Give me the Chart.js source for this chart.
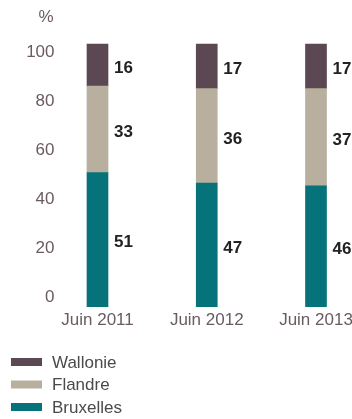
<!DOCTYPE html>
<html>
<head>
<meta charset="utf-8">
<script src="https://cdn.jsdelivr.net/npm/chart.js@4"></script>
<style>
  html, body { margin: 0; padding: 0; background: #fff; }
  #wrap { width: 352px; height: 419px; }
</style>
</head>
<body>
<div id="wrap"><canvas id="c" width="352" height="419"></canvas></div>
<script>
// --- DATA ---
const periods = ['Juin 2011', 'Juin 2012', 'Juin 2013'];
const bruxelles = [51, 47, 46];
const flandre = [33, 36, 37];
const wallonie = [16, 17, 17];
const yTicks = [0, 20, 40, 60, 80, 100];

const FONT = "'Liberation Sans', Arial, sans-serif";
const AXIS_COLOR = '#6a5a63';

// value labels to the right of each segment
const valueLabels = {
    id: 'valueLabels',
    afterDatasetsDraw(chart) {
        const ctx = chart.ctx;
        ctx.save();
        ctx.font = 'bold 17px ' + FONT;
        ctx.fillStyle = '#222';
        ctx.textAlign = 'left';
        ctx.textBaseline = 'middle';
        chart.data.datasets.forEach((ds, i) => {
            chart.getDatasetMeta(i).data.forEach((bar, j) => {
                const top = Math.min(bar.y, bar.base);
                const bottom = Math.max(bar.y, bar.base);
                ctx.fillText(ds.data[j], bar.x + bar.width / 2 + 6, (top + bottom) / 2 + 3);
            });
        });
        ctx.restore();
    }
};

// "%" unit + vertical legend
const extras = {
    id: 'extras',
    afterDraw(chart) {
        const ctx = chart.ctx;
        ctx.save();
        ctx.font = '17px ' + FONT;
        ctx.fillStyle = AXIS_COLOR;
        ctx.textAlign = 'center';
        ctx.textBaseline = 'middle';
        ctx.fillText('%', 46, 17);

        const items = chart.data.datasets.slice().reverse();
        ctx.textAlign = 'left';
        items.forEach((ds, k) => {
            const y = 362 + k * 22.5;
            ctx.fillStyle = ds.backgroundColor;
            ctx.fillRect(11, y - 4, 31, 8);
            ctx.fillStyle = '#4a4a4a';
            ctx.fillText(ds.label, 52, y + 1);
        });
        ctx.restore();
    }
};

new Chart(document.getElementById('c'), {
    type: 'bar',
    data: {
        labels: periods,
        datasets: [
            { label: 'Bruxelles', data: bruxelles, backgroundColor: '#06737a' },
            { label: 'Flandre', data: flandre, backgroundColor: '#b8af9f' },
            { label: 'Wallonie', data: wallonie, backgroundColor: '#5c4853' }
        ].map(ds => ({ ...ds, barThickness: 21, clip: false, yAxisID: 'y' }))
    },
    options: {
        responsive: false,
        animation: false,
        layout: { padding: { top: 44, right: 36, bottom: 84, left: 0 } },
        plugins: { legend: { display: false }, tooltip: { enabled: false } },
        scales: {
            x: {
                stacked: true,
                offset: false,
                grid: { display: false, drawTicks: false },
                border: { display: false },
                afterFit: s => { s.paddingLeft = 0; s.paddingRight = 0; },
                ticks: { color: AXIS_COLOR, font: { family: FONT, size: 17 }, padding: 4, maxRotation: 0 }
            },
            y: {
                stacked: true,
                display: false,
                min: 0,
                max: 100
            },
            yl: {
                position: 'left',
                min: -3.7,
                max: 103.3,
                grid: { display: false, drawTicks: false },
                border: { display: false },
                afterBuildTicks: s => { s.ticks = yTicks.map(v => ({ value: v })); },
                afterFit: s => { s.width = 97.5; s.paddingTop = 0; s.paddingBottom = 0; },
                ticks: { color: AXIS_COLOR, font: { family: FONT, size: 17 }, padding: 43 }
            }
        }
    },
    plugins: [valueLabels, extras]
});
</script>
</body>
</html>
